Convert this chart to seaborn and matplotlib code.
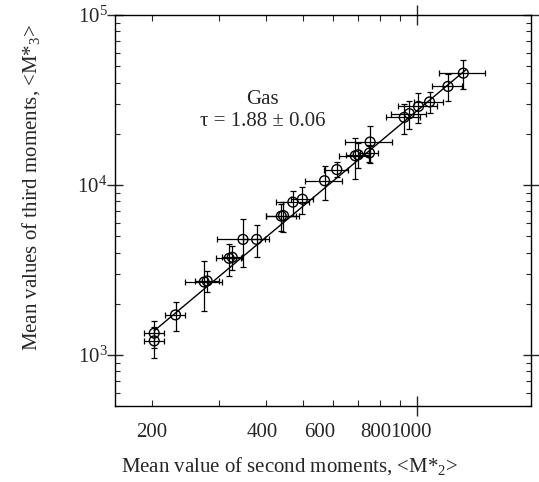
import matplotlib
matplotlib.use("Agg")
import matplotlib.pyplot as plt
import seaborn as sns
from matplotlib.ticker import FixedLocator, NullFormatter, LogLocator

# ---- data ----
m2 = [203, 203, 231, 275, 280, 320, 326, 348, 378, 439, 445, 471, 499,
      571, 615, 688, 700, 750, 753, 926, 955, 1010, 1080, 1208, 1326]
m3 = [1208, 1341, 1718, 2683, 2720, 3697, 3748, 4779, 4779, 6550, 6594, 7914, 8241,
      10585, 12314, 14841, 15042, 15413, 17885, 24971, 26260, 28979, 30793, 37980, 45470]
m2_err = [12, 12, 14, 31, 20, 24, 20, 50, 30, 40, 45, 47, 33,
          65, 45, 65, 50, 42, 105, 95, 100, 120, 95, 110, 185]
m3_err = [250, 250, 340, 880, 380, 800, 600, 1500, 1000, 1200, 1300, 1350, 1500,
          2400, 1250, 4000, 2500, 1700, 4400, 5000, 5000, 5800, 4300, 6800, 9000]

fit_x = [203, 1350]
fit_y = [1385, 47800]

x_tick_labels = ["200", "400", "600", "800", "1000"]
x_minor_ticks = [200, 300, 400, 500, 600, 700, 800, 900]
x_major_ticks = [1000]
y_major_ticks = [1e3, 1e4, 1e5]
y_tick_labels = ["$10^{3}$", "$10^{4}$", "$10^{5}$"]

annot_title = "Gas"
annot_tau = "τ = 1.88 ± 0.06"
x_label = "Mean value of second moments, <M*$_{2}$>"
y_label = "Mean values of third moments, <M*$_{3}$>"

# ---- style ----
sns.set_style("ticks")
plt.rcParams["font.family"] = ["Liberation Serif", "DejaVu Serif"]
plt.rcParams["mathtext.fontset"] = "custom"
plt.rcParams["mathtext.rm"] = "Liberation Serif"
plt.rcParams["mathtext.it"] = "Liberation Serif:italic"
plt.rcParams["mathtext.bf"] = "Liberation Serif:bold"

fig = plt.figure(figsize=(5.39, 4.82), dpi=100)
ax = fig.add_axes([0.2134, 0.1577, 0.7718, 0.8112])
ax.set_xscale("log")
ax.set_yscale("log")

ax.errorbar(m2, m3, xerr=m2_err, yerr=m3_err, fmt="none", ecolor="black",
            elinewidth=0.9, capsize=2.5, capthick=0.9, zorder=2)
sns.lineplot(x=fit_x, y=fit_y, ax=ax, color="black", linewidth=1.0, zorder=3)
sns.scatterplot(x=m2, y=m3, ax=ax, marker="o", s=50, facecolor="none",
                edgecolor="black", linewidth=1.0, zorder=4)

ax.set_xlim(160, 2000)
ax.set_ylim(500, 1e5)

for s in ax.spines.values():
    s.set_visible(True)
    s.set_linewidth(1.0)
    s.set_color("black")

ax.xaxis.set_major_locator(FixedLocator(x_major_ticks))
ax.xaxis.set_minor_locator(FixedLocator(x_minor_ticks))
ax.xaxis.set_major_formatter(NullFormatter())
ax.xaxis.set_minor_formatter(NullFormatter())
ax.tick_params(axis="x", which="major", direction="inout", length=14, width=1.0,
               top=True, bottom=True, labelbottom=False)
ax.tick_params(axis="x", which="minor", direction="in", length=4, width=0.8,
               top=True, bottom=True)

ax.set_yticks(y_major_ticks)
ax.set_yticklabels(y_tick_labels)
ax.yaxis.set_minor_locator(LogLocator(base=10, subs=[2, 3, 4, 5, 6, 7, 8, 9]))
ax.yaxis.set_minor_formatter(NullFormatter())
ax.tick_params(axis="y", which="major", direction="inout", length=11, width=1.0,
               left=True, right=True, labelsize=15, pad=0)
ax.tick_params(axis="y", which="minor", direction="in", length=3.5, width=0.8,
               left=True, right=True)
ax.set_xlabel("")
ax.set_ylabel("")

# x tick labels (placed as in the reference)
label_fracs = [0.087, 0.353, 0.493, 0.627, 0.712]
for frac, lab in zip(label_fracs, x_tick_labels):
    ax.text(frac, -0.0785, lab, transform=ax.transAxes, ha="center",
            va="baseline", fontsize=15)

ax.text(0.355, 0.783, annot_title, transform=ax.transAxes, ha="center",
        va="center", fontsize=15)
ax.text(0.355, 0.727, annot_tau, transform=ax.transAxes, ha="center",
        va="center", fontsize=15)

fig.text(0.538, 0.022, x_label, ha="center", va="baseline", fontsize=15)
fig.text(0.058, 0.61, y_label, ha="center", va="center", rotation=90, fontsize=15)

fig.savefig("out.png", dpi=100)
